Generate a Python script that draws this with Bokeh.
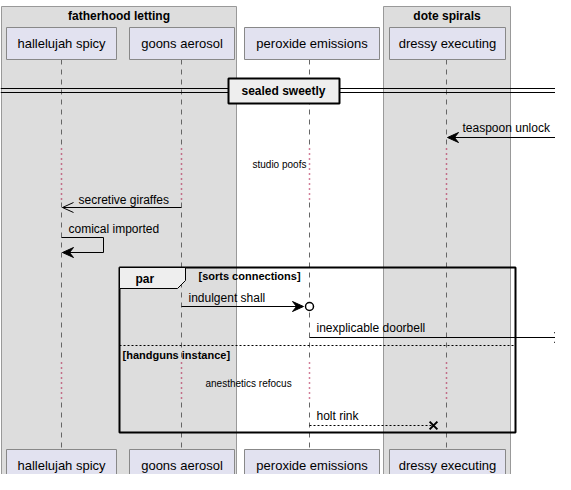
from bokeh.plotting import figure
from bokeh.models import Range1d
from bokeh.embed import file_html
from bokeh.resources import INLINE
from bokeh.core.properties import value

participants = ["hallelujah spicy", "goons aerosol", "peroxide emissions", "dressy executing"]
life_x = [61, 181, 309, 446]
box_l = [6, 129, 244, 389]
box_r = [116, 234, 379, 505]
groups = ["fatherhood letting", "dote spirals"]
group_l = [1, 383]
group_r = [236, 510]
messages = ["teaspoon unlock", "secretive giraffes", "comical imported", "indulgent shall", "inexplicable doorbell", "holt rink"]

FONT = value("Liberation Sans")
p = figure(width=555, height=474, output_backend="svg", toolbar_location=None,
           x_range=Range1d(0, 555), y_range=Range1d(474, 0))
p.axis.visible = False
p.grid.visible = False
p.outline_line_color = None
p.min_border = 0

def txt(x, y, s, size="12px", bold=False, align="left", base="middle", color="#000000"):
    p.text([x], [y], text=[s], text_font=FONT, text_font_size=size,
           text_font_style="bold" if bold else "normal", text_align=align,
           text_baseline=base, text_color=color)

for l, r, g in zip(group_l, group_r, groups):
    p.quad(left=l, right=r, top=6, bottom=484, fill_color="#dddddd", line_color="#999999", line_width=1)
    txt((l + r) / 2, 15, g, bold=True, align="center")

for x in life_x:
    segs = [59, 148, 202, 362, 402, 449]
    for i in range(0, len(segs) - 1):
        if i % 2 == 0:
            p.line([x, x], [segs[i], segs[i + 1]], line_color="#666666", line_dash="5 5", line_width=1)
        else:
            p.line([x, x], [segs[i], segs[i + 1]], line_color="#a80036", line_dash="1 4", line_width=1.5)

for l, r, n in zip(box_l, box_r, participants):
    for t, b in [(27, 59), (449, 481)]:
        p.quad(left=l, right=r, top=t, bottom=b, fill_color="#e2e2f0", line_color="#888888", line_width=1)
        txt((l + r) / 2, (t + b) / 2, n, size="13px", align="center")

for yy in (88, 92):
    p.line([0, 571], [yy, yy], line_color="#000000", line_width=1)
p.quad(left=228, right=339, top=78, bottom=103, fill_color="#eeeeee", line_color="#000000", line_width=2)
txt(283, 90, "sealed sweetly", size="12px", bold=True, align="center")

def head(x, y, d, filled=True):
    if filled:
        p.patch([x, x - 11 * d, x - 7 * d, x - 11 * d], [y, y - 5, y, y + 5], fill_color="#000000", line_color="#000000")
    else:
        p.line([x - 11 * d, x, x - 11 * d], [y - 5, y, y + 5], line_color="#000000", line_width=1)

p.line([571, 448], [137, 137], line_color="#000000")
head(447, 137, -1)
txt(462, 127, messages[0])
txt(252, 164, "studio poofs", size="10px")
p.line([181, 62], [207, 207], line_color="#000000")
head(62, 207, -1, filled=False)
txt(78, 199, messages[1])
p.line([61, 103, 103, 62], [237, 237, 252, 252], line_color="#000000")
head(62, 252, -1)
txt(68, 228, messages[2])

p.quad(left=119, right=515, top=267, bottom=432, fill_color=None, line_color="#000000", line_width=2)
p.patch([119, 185, 185, 177, 119], [267, 267, 280, 288, 288], fill_color="#eeeeee", line_color="#000000", line_width=1)
txt(135, 278, "par", bold=True)
txt(198, 275, "[sorts connections]", size="11px", bold=True)
p.line([181, 302], [306, 306], line_color="#000000")
head(303, 306, 1)
p.scatter([309], [306], size=8, marker="circle", fill_color="#ffffff", line_color="#000000", line_width=1.5)
txt(188, 297, messages[3])
p.line([309, 564], [337, 337], line_color="#000000")
head(565, 337, 1)
txt(316, 327, messages[4])
p.line([119, 515], [345, 345], line_color="#000000", line_dash="2 2")
txt(122, 354, "[handguns instance]", size="11px", bold=True)
txt(205, 383, "anesthetics refocus", size="10px")
p.line([309, 433], [425, 425], line_color="#000000", line_dash="2 2")
p.scatter([433], [425], size=11, marker="x", line_color="#000000", line_width=2)
txt(316, 415, messages[5])

open("out.html", "w").write(file_html(p, INLINE))
